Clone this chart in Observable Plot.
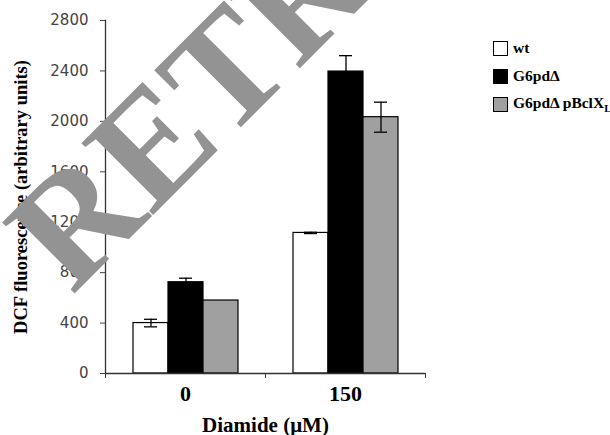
<!DOCTYPE html>
<html><head><meta charset="utf-8">
<script src="https://cdn.jsdelivr.net/npm/d3@7"></script>
<script src="https://cdn.jsdelivr.net/npm/@observablehq/plot@0.6"></script>
<style>
body{margin:0;background:#fff;}
#wrap{position:relative;width:610px;height:435px;overflow:hidden;background:#fff;}
#legend{position:absolute;left:493px;top:34px;font-family:"Liberation Serif","Times New Roman",serif;font-weight:bold;font-size:15.5px;color:#000;}
.row{display:flex;align-items:center;height:28px;white-space:nowrap;}
.sw{width:13px;height:13px;border:1.2px solid #000;margin-right:5px;box-sizing:content-box;}
#wm{position:absolute;left:0;top:0;pointer-events:none;}
</style></head><body><div id="wrap"></div>
<script>
// ---- data ----
const doses = ["0", "150"];
const genotypes = ["wt", "G6pdΔ", "G6pdΔ pBclXL"];
const legendMain = ["wt", "G6pdΔ", "G6pdΔ pBclX"];
const legendSub = ["", "", "L"];
const wtValues = [400, 1115];
const wtErrors = [30, 5];
const g6pdValues = [724, 2395];
const g6pdErrors = [32, 126];
const bclValues = [579, 2033];
const bclErrors = [0, 119];
const yTicks = [0, 400, 800, 1200, 1600, 2000, 2400, 2800];
const colors = ["#ffffff", "#000000", "#a0a0a0"];
const yLabel = "DCF fluorescence (arbitrary units)";
const xLabel = "Diamide (μM)";
const watermark = "RETRACTED";

const seriesValues = [wtValues, g6pdValues, bclValues];
const seriesErrors = [wtErrors, g6pdErrors, bclErrors];
const rows = [];
doses.forEach((dose, i) => genotypes.forEach((g, j) => rows.push({dose, genotype: g, value: seriesValues[j][i], err: seriesErrors[j][i]})));
const errRows = rows.filter(d => d.err > 0);

const W = 610, H = 435, mL = 105, mR = 185, mT = 20, mB = 62;
const step = (W - mL - mR) / doses.length;
const serif = "'Liberation Serif','Times New Roman',serif";

const chart = Plot.plot({
  width: W, height: H, marginLeft: mL, marginRight: mR, marginTop: mT, marginBottom: mB,
  style: {background: "transparent", overflow: "visible"},
  fx: {domain: doses, padding: 0, label: null},
  x: {domain: genotypes, paddingInner: 0, paddingOuter: 0.74, axis: null},
  y: {domain: [0, 2800]},
  color: {domain: genotypes, range: colors},
  marks: [
    Plot.barY(rows, {fx: "dose", x: "genotype", y: "value", fill: "genotype", stroke: "#000", strokeWidth: 1.2}),
    Plot.ruleX(errRows, {fx: "dose", x: "genotype", y1: d => d.value - d.err, y2: d => d.value + d.err, stroke: "#000", strokeWidth: 1.3}),
    Plot.tickY(errRows, {fx: "dose", x: "genotype", y: d => d.value + d.err, insetLeft: 11, insetRight: 11, stroke: "#000", strokeWidth: 1.3}),
    Plot.tickY(errRows, {fx: "dose", x: "genotype", y: d => d.value - d.err, insetLeft: 11, insetRight: 11, stroke: "#000", strokeWidth: 1.3}),
    Plot.ruleY([0], {stroke: "#333", strokeWidth: 1.3}),
    Plot.frame({anchor: "left", facetAnchor: "left", stroke: "#333", strokeWidth: 1.3}),
    Plot.axisY({ticks: yTicks, tickSize: 5, tickPadding: 12, tickFormat: d => String(d), fontSize: 15, fontFamily: "'DejaVu Sans',Verdana,sans-serif", color: "#444", label: null}),
    Plot.axisY({ticks: [], label: yLabel, labelAnchor: "center", labelArrow: "none", labelOffset: 92, fontSize: 18.5, fontFamily: serif, fontWeight: "bold", color: "#000"}),
    Plot.axisFx({anchor: "bottom", tickSize: 0, tickPadding: 12, fontSize: 22, fontFamily: serif, fontWeight: "bold", color: "#000", label: null}),
    Plot.axisFx({anchor: "bottom", tickSize: 5, tickFormat: () => "", dx: -step / 2, stroke: "#333", label: null}),
    Plot.axisFx({anchor: "bottom", tickSize: 5, tickFormat: () => "", dx: step / 2, stroke: "#333", label: null}),
    Plot.axisFx({anchor: "bottom", ticks: [], label: xLabel, labelAnchor: "center", labelArrow: "none", labelOffset: 58, fontSize: 21, fontFamily: serif, fontWeight: "bold", color: "#000"})
  ]
});
const wrap = document.getElementById("wrap");
wrap.appendChild(chart);

// legend
const leg = document.createElement("div");
leg.id = "legend";
genotypes.forEach((g, j) => {
  const r = document.createElement("div"); r.className = "row";
  const s = document.createElement("div"); s.className = "sw"; s.style.background = colors[j];
  const t = document.createElement("span"); t.textContent = legendMain[j];
  if (legendSub[j]) { const sub = document.createElement("sub"); sub.textContent = legendSub[j]; sub.style.fontSize = "11px"; t.appendChild(sub); }
  r.appendChild(s); r.appendChild(t); leg.appendChild(r);
});
wrap.appendChild(leg);

// watermark overlay
const svg = d3.select(wrap).append("svg").attr("id", "wm").attr("width", W).attr("height", H);
svg.append("text").attr("transform", "translate(72,296) rotate(-45)")
  .attr("font-family", serif).attr("font-weight", "bold").attr("font-size", 155)
  .attr("fill", "#939393").text(watermark);
</script></body></html>
